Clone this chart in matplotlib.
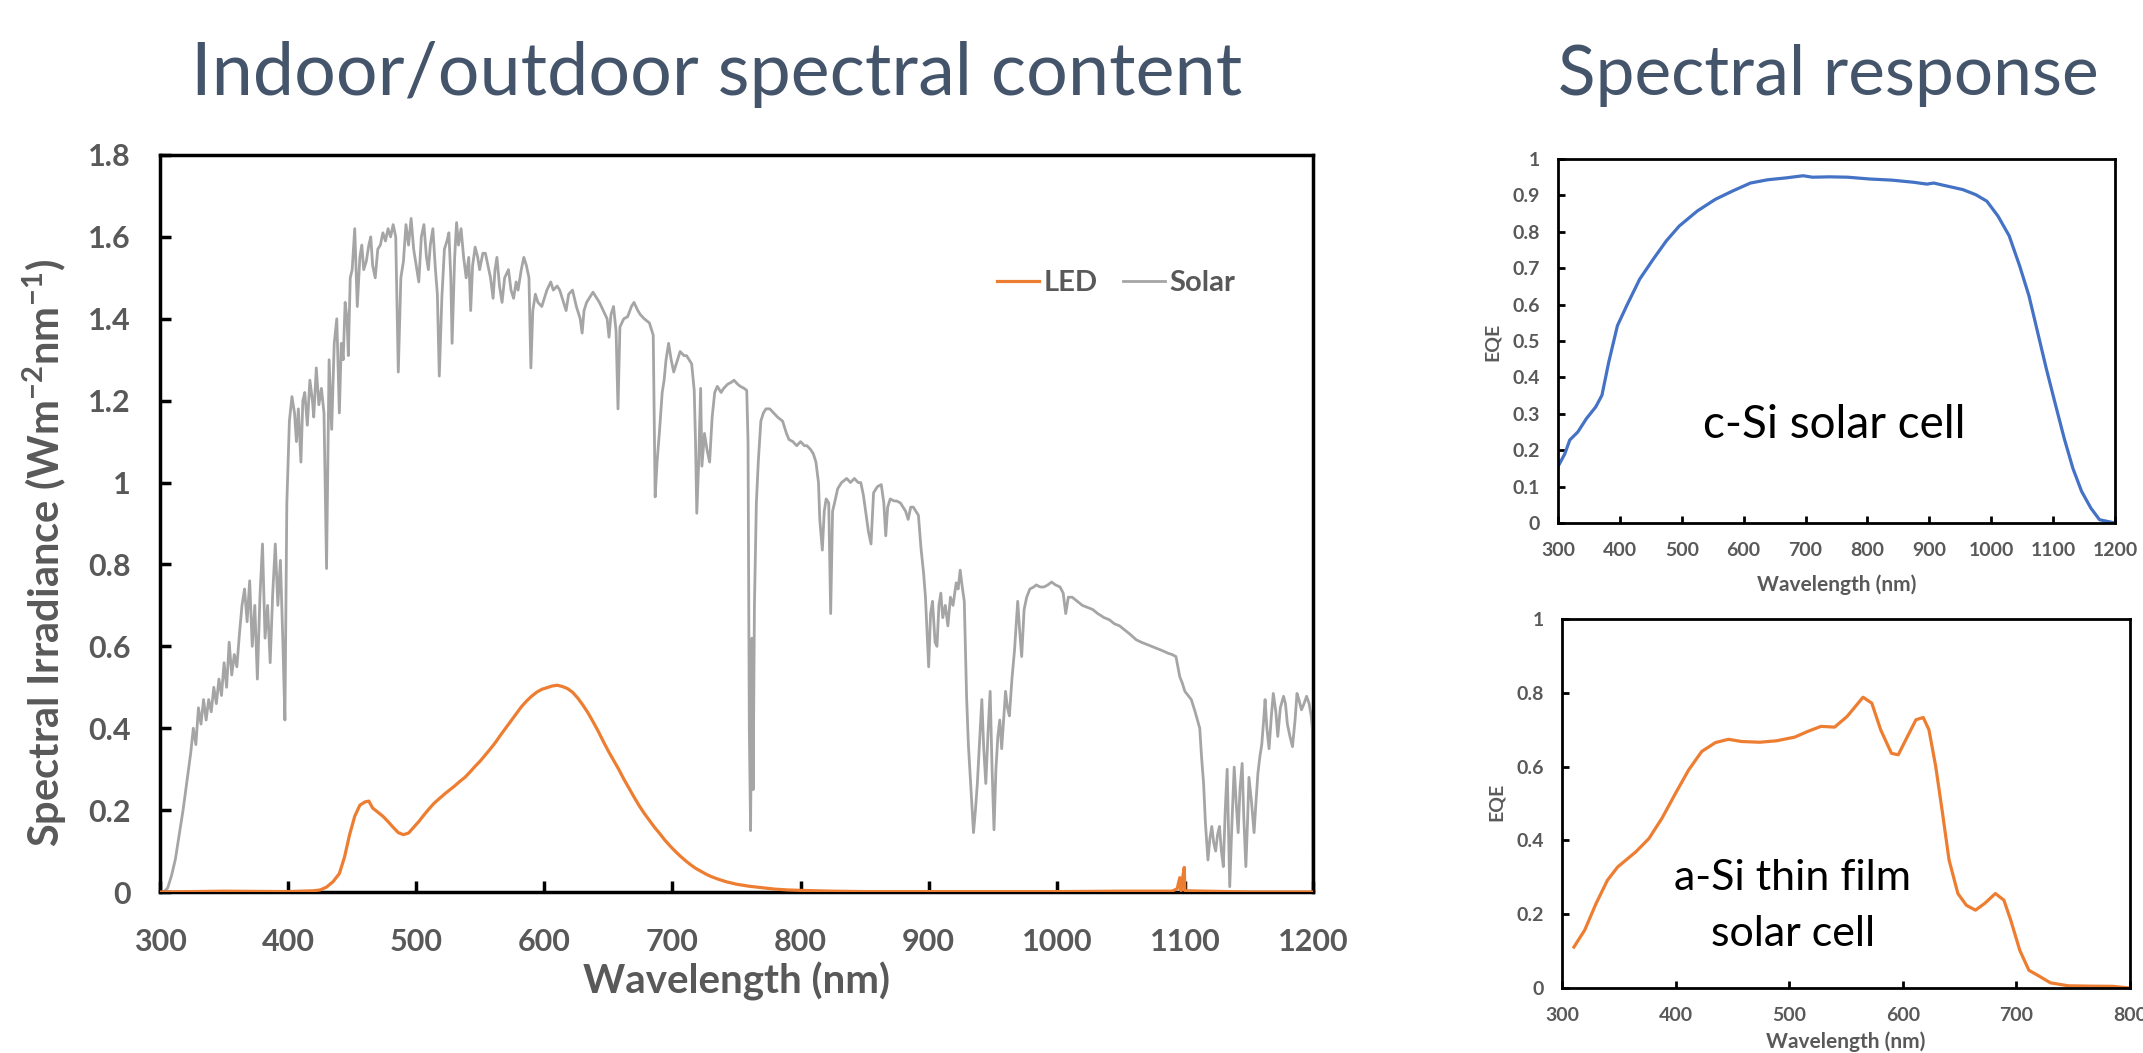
import numpy as np
import matplotlib
matplotlib.use("Agg")
import matplotlib.pyplot as plt
from matplotlib.ticker import FuncFormatter

plt.rcParams['font.family'] = ['Lato', 'DejaVu Sans']
plt.rcParams['mathtext.fontset'] = 'custom'
plt.rcParams['mathtext.rm'] = 'Lato'
plt.rcParams['mathtext.bf'] = 'Lato:bold'

# ---- solar spectrum ----
solar_nm = [300, 303, 306, 309, 312, 315, 318, 321, 324, 326, 328, 330, 332, 334, 336, 338, 340, 342, 344, 346,
            348, 350, 352, 354, 356, 358, 360, 362, 364, 366, 368, 370, 372, 374, 376, 378, 380, 382, 384, 386,
            388, 390, 392, 394, 396, 397.5, 399, 401, 403, 405, 406.5, 408, 410, 411.5, 413, 415, 417, 419, 420,
            422, 424, 426, 428, 430, 432, 434, 436, 438, 440, 441.5, 443, 444.5, 446, 447, 448.5, 450, 452, 454,
            456, 457.5, 459, 461, 463, 464.5, 466, 468, 470, 472, 474, 476, 478, 480, 482, 484, 486, 488, 490,
            492, 494, 496, 498, 499.5, 502, 504, 506, 508, 509.5, 511, 513, 515, 516.5, 518, 520, 522, 524,
            525.5, 527, 528, 530, 531.5, 533, 535, 537, 539, 541, 542.5, 544, 546, 548, 549.5, 552, 554, 556,
            558, 560, 561.5, 563, 565, 567, 569, 572, 574, 576, 578, 579.5, 582, 584, 586, 588, 589.5, 591, 593,
            595, 598, 600, 602, 605, 607, 610, 612, 614, 617, 619, 622, 625, 628, 629.5, 631, 633, 635, 638, 641,
            643, 646, 649, 650.5, 652, 654, 656, 657.5, 659, 662, 665, 668, 670, 673, 675, 678, 682, 685, 686.5,
            688, 690, 692, 693.5, 695, 697, 699, 701, 703, 706, 709, 711, 713, 715, 717, 718, 719, 720.5, 722,
            723, 725, 727, 729, 731, 733, 735, 738, 740, 743, 746, 748, 751, 753, 756, 758, 759, 760, 761, 762,
            763, 764, 765.5, 767, 769, 771, 773, 776, 779, 782, 786, 789, 791, 794, 797, 800, 803, 805, 808, 810,
            812, 814, 815, 817, 818.5, 820, 822, 823.5, 825, 826.5, 829, 832, 836, 839, 842, 845, 847, 849, 851,
            853, 855, 857, 860, 863, 865, 866.5, 868, 870, 873, 875, 878, 880, 882, 884, 886, 888, 890, 892, 894,
            896, 897.5, 899, 900, 901.5, 903, 905, 906.5, 908, 909.5, 911, 913, 915, 917, 919, 921.5, 923, 924.6,
            926, 927.8, 929.6, 931, 932.8, 935, 936.5, 938, 940, 941.5, 943, 944.6, 946.5, 948, 949.5, 951,
            952.5, 954, 955.5, 957, 958.5, 960, 961.5, 963, 965, 967, 968.5, 969.5, 971, 972.6, 974.5, 976.5,
            979, 982, 984, 987, 990, 993, 996, 999, 1002.5, 1005, 1007, 1009, 1012, 1016, 1020, 1024, 1028,
            1032, 1037, 1041, 1045, 1049, 1053, 1057, 1062, 1066, 1070, 1074, 1078, 1082, 1087, 1090, 1093,
            1094.5, 1096, 1098, 1100, 1102.5, 1105, 1108, 1111.6, 1113, 1114.6, 1116, 1118, 1119.5, 1121, 1122.5,
            1124, 1125.5, 1127, 1128.5, 1130, 1131.5, 1133, 1134, 1135, 1136.5, 1138.5, 1140, 1141.6, 1143,
            1144.7, 1146, 1147.6, 1149, 1150, 1152, 1154, 1155.5, 1157, 1158.5, 1160, 1161.5, 1162.6, 1164,
            1165.7, 1167.5, 1169, 1171, 1172.5, 1174.5, 1177, 1178.5, 1180, 1182, 1184, 1186, 1187.5, 1189,
            1191, 1193, 1195, 1197, 1198.6, 1199.5, 1200]
solar_val = [0.0, 0.0, 0.01, 0.04, 0.08, 0.14, 0.2, 0.27, 0.34, 0.40, 0.36, 0.45, 0.41, 0.47, 0.42, 0.47, 0.44, 0.50, 0.46, 0.52,
             0.48, 0.56, 0.50, 0.61, 0.53, 0.58, 0.55, 0.63, 0.70, 0.74, 0.66, 0.76, 0.60, 0.70, 0.52, 0.72, 0.85, 0.62, 0.70, 0.56,
             0.73, 0.85, 0.70, 0.81, 0.60, 0.42, 0.95, 1.15, 1.21, 1.17, 1.10, 1.18, 1.05, 1.20, 1.22, 1.14, 1.25, 1.20, 1.16,
             1.28, 1.19, 1.23, 1.17, 0.79, 1.30, 1.13, 1.34, 1.40, 1.17, 1.34, 1.30, 1.44, 1.40, 1.31, 1.50, 1.52, 1.62, 1.43,
             1.55, 1.58, 1.52, 1.54, 1.58, 1.60, 1.53, 1.50, 1.57, 1.58, 1.61, 1.59, 1.62, 1.60, 1.63, 1.60, 1.27, 1.50, 1.54,
             1.63, 1.58, 1.645, 1.57, 1.54, 1.49, 1.60, 1.63, 1.55, 1.52, 1.58, 1.62, 1.52, 1.46, 1.26, 1.45, 1.57, 1.59,
             1.61, 1.50, 1.34, 1.55, 1.635, 1.58, 1.62, 1.55, 1.50, 1.55, 1.42, 1.53, 1.575, 1.55, 1.52, 1.56, 1.56, 1.53,
             1.50, 1.45, 1.52, 1.55, 1.48, 1.44, 1.50, 1.52, 1.47, 1.45, 1.49, 1.47, 1.52, 1.55, 1.53, 1.50, 1.28, 1.42, 1.46,
             1.44, 1.43, 1.45, 1.47, 1.49, 1.47, 1.48, 1.47, 1.45, 1.42, 1.46, 1.47, 1.43, 1.40, 1.365, 1.42, 1.44, 1.45, 1.465, 1.45,
             1.44, 1.42, 1.40, 1.355, 1.41, 1.43, 1.37, 1.18, 1.38, 1.40, 1.405, 1.43, 1.44, 1.42, 1.41, 1.40, 1.39, 1.36, 0.965,
             1.05, 1.13, 1.22, 1.25, 1.30, 1.34, 1.30, 1.27, 1.29, 1.32, 1.31, 1.31, 1.30, 1.29, 1.225, 1.10, 0.925, 1.05, 1.23,
             1.04, 1.12, 1.08, 1.05, 1.16, 1.22, 1.235, 1.22, 1.23, 1.24, 1.245, 1.25, 1.24, 1.235, 1.23, 1.225, 1.10, 0.4, 0.15, 0.62,
             0.25, 0.70, 0.95, 1.05, 1.15, 1.17, 1.18, 1.18, 1.17, 1.16, 1.15, 1.12, 1.105, 1.10, 1.09, 1.10, 1.09, 1.09, 1.08, 1.07,
             1.05, 1.00, 0.91, 0.835, 0.93, 0.96, 0.95, 0.68, 0.93, 0.95, 0.985, 1.00, 1.01, 1.00, 1.01, 1.00, 1.00, 0.97, 0.925,
             0.88, 0.85, 0.975, 0.99, 0.995, 0.95, 0.87, 0.94, 0.96, 0.955, 0.955, 0.95, 0.94, 0.93, 0.91, 0.94, 0.94, 0.93, 0.92, 0.84,
             0.78, 0.72, 0.62, 0.55, 0.68, 0.71, 0.61, 0.60, 0.70, 0.73, 0.67, 0.70, 0.65, 0.72, 0.70, 0.755, 0.74, 0.786,
             0.75, 0.71, 0.477, 0.36, 0.265, 0.145, 0.20, 0.265, 0.38, 0.47, 0.35, 0.265, 0.40, 0.49, 0.30, 0.152,
             0.30, 0.38, 0.42, 0.35, 0.42, 0.49, 0.45, 0.43, 0.52, 0.59, 0.66, 0.71, 0.64, 0.575, 0.69, 0.72,
             0.74, 0.745, 0.75, 0.745, 0.745, 0.75, 0.757, 0.75, 0.745, 0.73, 0.68, 0.72, 0.72, 0.71, 0.70, 0.695, 0.69,
             0.68, 0.67, 0.665, 0.655, 0.65, 0.64, 0.63, 0.616, 0.61, 0.605, 0.60, 0.595, 0.59, 0.583, 0.58, 0.575,
             0.55, 0.526, 0.51, 0.49, 0.48, 0.47, 0.44, 0.40, 0.33, 0.265, 0.17, 0.078, 0.13, 0.16, 0.12,
             0.10, 0.14, 0.16, 0.10, 0.062, 0.20, 0.30, 0.15, 0.013, 0.15, 0.305, 0.22, 0.145, 0.25,
             0.314, 0.18, 0.062, 0.18, 0.28, 0.22, 0.145, 0.22, 0.29, 0.33, 0.36, 0.42, 0.47, 0.40,
             0.35, 0.43, 0.485, 0.44, 0.38, 0.45, 0.478, 0.46, 0.41, 0.38, 0.355, 0.42, 0.485, 0.47,
             0.445, 0.46, 0.478, 0.46, 0.43, 0.40, 0.0]

# ---- LED spectrum ----
led_nm = [300, 350, 400, 420, 425, 430, 435, 440, 444, 448, 452, 456, 460, 463, 466, 470, 474, 478, 482, 486, 490,
          494, 498, 502, 506, 510, 514, 518, 522, 526, 530, 534, 538, 542, 546, 550, 554, 558, 562, 566, 570, 574,
          578, 582, 586, 590, 594, 598, 602, 606, 610, 614, 618, 622, 626, 630, 634, 638, 642, 646, 650, 654, 658,
          662, 666, 670, 674, 678, 682, 686, 690, 694, 698, 702, 706, 710, 714, 718, 722, 726, 730, 736, 742, 750,
          760, 770, 780, 790, 800, 825, 850, 900, 1000, 1050, 1090, 1094, 1096, 1097, 1098.5, 1099.5, 1100, 1150, 1200]
led_val = [0.0, 0.002, 0.001, 0.003, 0.005, 0.012, 0.025, 0.045, 0.085, 0.14, 0.185, 0.212, 0.22, 0.222, 0.205, 0.195,
           0.185, 0.172, 0.158, 0.145, 0.14, 0.144, 0.158, 0.172, 0.188, 0.203, 0.217, 0.228, 0.239, 0.249, 0.259,
           0.27, 0.28, 0.293, 0.307, 0.32, 0.335, 0.35, 0.366, 0.384, 0.401, 0.418, 0.435, 0.452, 0.466, 0.478, 0.488,
           0.495, 0.499, 0.503, 0.505, 0.502, 0.497, 0.488, 0.474, 0.457, 0.438, 0.416, 0.393, 0.368, 0.344, 0.322,
           0.3, 0.276, 0.254, 0.232, 0.211, 0.192, 0.175, 0.158, 0.143, 0.127, 0.113, 0.1, 0.088, 0.077, 0.067,
           0.058, 0.051, 0.044, 0.038, 0.031, 0.025, 0.019, 0.014, 0.0105, 0.007, 0.005, 0.004, 0.002, 0.001,
           0.001, 0.001, 0.002, 0.002, 0.008, 0.035, 0.003, 0.04, 0.06, 0.003, 0.0, 0.0]

# ---- c-Si EQE ----
csi_nm = [300, 311, 319, 332, 346, 361, 371, 382, 396, 411, 432, 454, 475, 496, 525, 554, 582, 611, 639, 668, 696,
          711, 739, 768, 804, 839, 875, 896, 907, 925, 954, 975, 993, 1011, 1029, 1046, 1061, 1075, 1089, 1104,
          1118, 1132, 1146, 1161, 1175, 1186, 1200]
csi_eqe = [0.155, 0.19, 0.228, 0.25, 0.287, 0.319, 0.351, 0.442, 0.542, 0.597, 0.67, 0.725, 0.775, 0.816, 0.857,
           0.889, 0.912, 0.934, 0.943, 0.948, 0.954, 0.95, 0.951, 0.95, 0.945, 0.942, 0.936, 0.931, 0.934, 0.927,
           0.916, 0.902, 0.884, 0.843, 0.789, 0.706, 0.624, 0.524, 0.424, 0.324, 0.232, 0.15, 0.087, 0.041, 0.009,
           0.005, 0.0]

# ---- a-Si EQE ----
asi_nm = [310.5, 320, 330, 340, 349, 365, 376.5, 388, 400, 411.5, 423, 435, 446.5, 458, 474, 489, 505, 516, 528, 540,
          551, 565, 572.7, 580.5, 590, 596, 604, 611.6, 618, 623, 629, 635, 640.7, 648.5, 656, 664, 672, 681.5,
          689, 695, 703, 711, 719, 730, 745.6, 765, 784.5, 800]
asi_eqe = [0.111, 0.157, 0.229, 0.292, 0.328, 0.369, 0.405, 0.46, 0.528, 0.591, 0.641, 0.665, 0.674, 0.668, 0.666,
           0.67, 0.68, 0.695, 0.709, 0.707, 0.736, 0.788, 0.772, 0.70, 0.636, 0.632, 0.681, 0.727, 0.733, 0.70, 0.60,
           0.473, 0.347, 0.256, 0.224, 0.211, 0.229, 0.256, 0.238, 0.184, 0.102, 0.048, 0.034, 0.014, 0.006, 0.005,
           0.0045, 0.0]

main_xticks = [300, 400, 500, 600, 700, 800, 900, 1000, 1100, 1200]
main_yticks = [0, 0.2, 0.4, 0.6, 0.8, 1.0, 1.2, 1.4, 1.6, 1.8]
csi_yticks = [0, 0.1, 0.2, 0.3, 0.4, 0.5, 0.6, 0.7, 0.8, 0.9, 1.0]
asi_xticks = [300, 400, 500, 600, 700, 800]
asi_yticks = [0, 0.2, 0.4, 0.6, 0.8, 1.0]

orange = '#ED7D31'
grey = '#A5A5A5'
blue = '#4472C4'
txt = '#595959'
title_col = '#44546A'

fmt = FuncFormatter(lambda v, p: f"{v:g}")

W, H = 2143, 1053
fig = plt.figure(figsize=(W / 100, H / 100), dpi=100)


def box(l, t, r, b):
    return [l / W, 1 - b / H, (r - l) / W, (b - t) / H]


def style(ax, fs, lw, tl, padx, pady):
    for s in ax.spines.values():
        s.set_linewidth(lw)
        s.set_color('black')
    ax.xaxis.set_major_formatter(fmt)
    ax.yaxis.set_major_formatter(fmt)
    ax.tick_params(direction='in', length=tl, width=lw, labelsize=fs, labelcolor=txt, color='black')
    ax.tick_params(axis='x', pad=padx)
    ax.tick_params(axis='y', pad=pady)


def bold_ticks(ax):
    for lab in ax.get_xticklabels() + ax.get_yticklabels():
        lab.set_fontweight('bold')


# main chart
ax = fig.add_axes(box(160, 155, 1313, 892))
ax.plot(led_nm, led_val, color=orange, lw=2.3, label='LED', zorder=3)
ax.plot(solar_nm, solar_val, color=grey, lw=2.0, label='Solar', zorder=2)
ax.set_xlim(300, 1200)
ax.set_ylim(0, 1.8)
ax.set_xticks(main_xticks)
ax.set_yticks(main_yticks)
style(ax, 22, 2.5, 8, 26, 21)
ax.set_xlabel('Wavelength (nm)', fontsize=29, fontweight='bold', color=txt, va='center')
ax.xaxis.set_label_coords(0.5, -0.122)
ax.set_ylabel(r'Spectral Irradiance (Wm$^{\mathbf{-2}}$nm$^{\mathbf{-1}}$)', fontsize=30,
              fontweight='bold', color=txt, va='center')
ax.yaxis.set_label_coords(-0.0997, 0.46)
leg = ax.legend(loc='center left', bbox_to_anchor=(0.726, 0.826), ncol=2, frameon=False,
                fontsize=21, handlelength=1.45, handletextpad=0.15,
                columnspacing=0.85, borderpad=0, borderaxespad=0)
for t in leg.get_texts():
    t.set_color(txt)
    t.set_fontweight('bold')

# c-Si EQE
ax2 = fig.add_axes(box(1558, 159, 2115, 523))
ax2.plot(csi_nm, csi_eqe, color=blue, lw=2.3)
ax2.set_xlim(300, 1200)
ax2.set_ylim(0, 1)
ax2.set_xticks(main_xticks)
ax2.set_yticks(csi_yticks)
style(ax2, 14, 2, 5, 14, 13)
ax2.set_xlabel('Wavelength (nm)', fontsize=15, fontweight='bold', color=txt, va='center')
ax2.xaxis.set_label_coords(0.5, -0.17)
ax2.set_ylabel('EQE', fontsize=14, fontweight='bold', color=txt, va='center')
ax2.yaxis.set_label_coords(-0.118, 0.497)
ax2.text(746, 0.27, 'c-Si solar cell', fontsize=33, ha='center', va='center', color='black')

# a-Si EQE
ax3 = fig.add_axes(box(1562, 619, 2130, 988))
ax3.plot(asi_nm, asi_eqe, color=orange, lw=2.3)
ax3.set_xlim(300, 800)
ax3.set_ylim(0, 1)
ax3.set_xticks(asi_xticks)
ax3.set_yticks(asi_yticks)
style(ax3, 14, 2, 5, 14, 13)
ax3.set_xlabel('Wavelength (nm)', fontsize=15, fontweight='bold', color=txt, va='center')
ax3.xaxis.set_label_coords(0.5, -0.145)
ax3.set_ylabel('EQE', fontsize=14, fontweight='bold', color=txt, va='center')
ax3.yaxis.set_label_coords(-0.116, 0.504)
ax3.text(503, 0.297, 'a-Si thin film', fontsize=31, ha='center', va='center', color='black')
ax3.text(503, 0.147, 'solar cell', fontsize=31, ha='center', va='center', color='black')

# headings
fig.text(717 / W, 1 - 95 / H, 'Indoor/outdoor spectral content', fontsize=53,
         color=title_col, ha='center', va='baseline')
fig.text(1828 / W, 1 - 95 / H, 'Spectral response', fontsize=50,
         color=title_col, ha='center', va='baseline')

fig.canvas.draw()
for a in (ax, ax2, ax3):
    bold_ticks(a)

fig.savefig('out.png', dpi=100)
